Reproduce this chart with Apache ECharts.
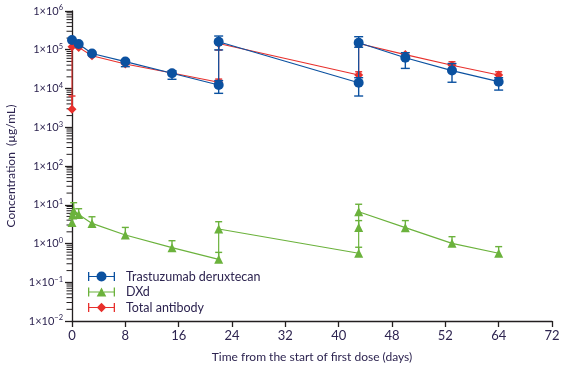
<!DOCTYPE html>
<html>
<head>
<meta charset="utf-8">
<script src="https://cdn.jsdelivr.net/npm/echarts@6/dist/echarts.min.js"></script>
<style>html,body{margin:0;padding:0;background:#fff}#c{width:568px;height:373px}</style>
</head>
<body>
<div id="c"></div>
<script>
// ---- data (days, µg/mL) ----
const tdxdDays = [0, 1, 3, 8, 15, 22, 22, 43, 43, 50, 57, 64];
const tdxdConc = [1.79e5, 1.41e5, 8.0e4, 4.95e4, 2.47e4, 1.23e4, 1.61e5, 1.41e4, 1.52e5, 6.2e4, 2.9e4, 1.5e4];
const tdxdLow  = [null, null, null, 3.66e4, 1.73e4, 7.5e3, 9.9e4, 6.4e3, 1.16e5, 3.3e4, 1.45e4, 9.1e3];
const tdxdHigh = [null, null, null, 5.3e4, 2.88e4, 1.6e4, 2.26e5, 1.9e4, 2.17e5, 8.4e4, 4.4e4, 1.9e4];

const dxdDays = [0, 0.1, 0.25, 1, 3, 8, 15, 22, 22, 43, 43, 43, 50, 57, 64];
const dxdConc = [3.5, 5.4, 7.0, 5.6, 3.3, 1.66, 0.78, 0.39, 2.37, 0.56, 2.6, 6.6, 2.56, 1.01, 0.56];
const dxdLow  = [null, null, null, null, null, null, null, null, null, null, null, null, null, null, null];
const dxdHigh = [null, null, 11.3, 7.9, 4.9, 2.6, 1.18, 0.59, 3.65, 0.8, 3.9, 10.3, 3.9, 1.5, 0.83];

const tabDays = [0, 0, 1, 3, 8, 15, 22, 22, 43, 43, 50, 57, 64];
const tabConc = [2.9e3, 1.2e5, 1.15e5, 7.0e4, 4.3e4, 2.5e4, 1.45e4, 1.45e5, 2.23e4, 1.45e5, 7.5e4, 4.0e4, 2.23e4];
const tabLow  = [null, null, null, null, null, null, null, 9.8e4, null, 1.2e5, null, null, null];
const tabHigh = [6.4e3, null, null, null, null, null, 1.75e4, null, 2.7e4, null, null, 4.9e4, 2.7e4];

const seriesNames = ['Trastuzumab deruxtecan', 'DXd', 'Total antibody'];
const xTickLabels = ['0', '8', '16', '24', '32', '40', '48', '52', '64', '72'];
const yExponents = [-2, -1, 0, 1, 2, 3, 4, 5, 6];

// ---- styling ----
const BLUE = '#0b51a0', GREEN = '#6bb23c', RED = '#e8302c';
const AXIS = '#231f20', TXT = '#2d2450';
const FONT = 'Lato';

const yMinorTicks = [];
for (let e = yExponents[0]; e < yExponents[yExponents.length - 1]; e++) {
  for (let k = 2; k <= 9; k++) yMinorTicks.push([0, k * Math.pow(10, e)]);
}

function zip(xs, ys) { return xs.map((x, i) => [x, ys[i]]); }
function ebData(xs, ys, lo, hi) {
  return xs.map((x, i) => [x, ys[i], lo[i] == null ? ys[i] : lo[i], hi[i] == null ? ys[i] : hi[i]]);
}
function errorBar(name, data, color, capHalf, z) {
  return {
    type: 'custom', name: name, data: data, z: z, silent: true, clip: false,
    encode: { x: 0, y: 1 },
    renderItem: function (params, api) {
      const x = api.value(0), y = api.value(1), lo = api.value(2), hi = api.value(3);
      const pLo = api.coord([x, lo]), pHi = api.coord([x, hi]);
      const children = [];
      const st = { stroke: color, lineWidth: 1.4 };
      if (pLo[1] - pHi[1] > 0.5) {
        children.push({ type: 'line', shape: { x1: pLo[0], y1: pLo[1], x2: pHi[0], y2: pHi[1] }, style: st });
      }
      if (lo < y) children.push({ type: 'line', shape: { x1: pLo[0] - capHalf, y1: pLo[1], x2: pLo[0] + capHalf, y2: pLo[1] }, style: st });
      if (hi > y) children.push({ type: 'line', shape: { x1: pHi[0] - capHalf, y1: pHi[1], x2: pHi[0] + capHalf, y2: pHi[1] }, style: st });
      return { type: 'group', children: children };
    }
  };
}

const capL = 'M0,1 H1.3 V10 H0 Z M25.7,1 H27 V10 H25.7 Z ';
const iconCircle = 'path://' + capL + 'M0,4.9 H9 V6.1 H0 Z M18,4.9 H27 V6.1 H18 Z M8.5,5.5 A5,5 0 1,1 18.5,5.5 A5,5 0 1,1 8.5,5.5 Z';
const iconTri = 'path://' + capL + 'M0,4.9 H11 V6.1 H0 Z M16,4.9 H27 V6.1 H16 Z M13.5,1 L18.3,10 L8.7,10 Z';
const iconDia = 'path://' + capL + 'M0,4.9 H9.5 V6.1 H0 Z M17.5,4.9 H27 V6.1 H17.5 Z M13.5,0.8 L18.2,5.5 L13.5,10.2 L8.8,5.5 Z';

const chart = echarts.init(document.getElementById('c'), null, { renderer: 'canvas' });
chart.setOption({
  animation: false,
  backgroundColor: '#fff',
  grid: { left: 72, right: 16, top: 11, bottom: 52, containLabel: false, outerBoundsMode: 'none' },
  legend: {
    orient: 'vertical', left: 83, top: 265, itemWidth: 27, itemHeight: 11, itemGap: 2.5,
    data: [
      { name: seriesNames[0], icon: iconCircle },
      { name: seriesNames[1], icon: iconTri },
      { name: seriesNames[2], icon: iconDia }
    ],
    textStyle: { fontFamily: FONT, fontSize: 12.5, color: TXT, padding: [0, 0, 0, 6], lineHeight: 12 }
  },
  xAxis: {
    type: 'value', min: 0, max: 72, interval: 8,
    name: 'Time from the start of first dose (days)', nameLocation: 'middle', nameGap: 30,
    nameTextStyle: { fontFamily: FONT, fontSize: 12, color: TXT },
    axisLine: { lineStyle: { color: AXIS, width: 1.3 } },
    axisTick: { length: 6, lineStyle: { color: AXIS, width: 1.3 } },
    axisLabel: { margin: 8, fontFamily: FONT, fontSize: 13, color: TXT,
      formatter: function (v, i) { return xTickLabels[Math.round(v / 8)]; } },
    splitLine: { show: false }
  },
  yAxis: {
    type: 'log', logBase: 10, min: 0.01, max: 1e6, interval: 1,
    name: 'Concentration  (µg/mL)', nameLocation: 'middle', nameGap: 55,
    nameTextStyle: { fontFamily: FONT, fontSize: 12, color: TXT },
    axisLine: { show: true, lineStyle: { color: AXIS, width: 1.3 } },
    axisTick: { show: true, length: 7, lineStyle: { color: AXIS, width: 1.3 } },
    minorTick: { show: false },
    axisLabel: {
      margin: 9,
      formatter: function (v) {
        const e = Math.round(Math.log10(v));
        return '{a|1×10}{s|' + (e < 0 ? '−' + (-e) : e) + '}';
      },
      rich: {
        a: { fontFamily: FONT, fontSize: 11, color: TXT, lineHeight: 14 },
        s: { fontFamily: FONT, fontSize: 7.5, color: TXT, lineHeight: 6, verticalAlign: 'top' }
      }
    },
    splitLine: { show: false }
  },
  series: [
    {
      type: 'custom', name: 'minor', data: yMinorTicks, silent: true, clip: false, z: 1,
      encode: { x: 0, y: 1 },
      renderItem: function (params, api) {
        const p = api.coord([api.value(0), api.value(1)]);
        return { type: 'line', shape: { x1: p[0] - 5.5, y1: p[1], x2: p[0], y2: p[1] },
          style: { stroke: AXIS, lineWidth: 1 } };
      }
    },
    errorBar('ebT', ebData(tdxdDays, tdxdConc, tdxdLow, tdxdHigh), BLUE, 4.5, 3.5),
    errorBar('ebD', ebData(dxdDays, dxdConc, dxdLow, dxdHigh), GREEN, 3.5, 2),
    errorBar('ebA', ebData(tabDays, tabConc, tabLow, tabHigh), RED, 3.5, 2),
    {
      type: 'line', name: seriesNames[0], data: zip(tdxdDays, tdxdConc), z: 4,
      symbol: 'circle', symbolSize: 10, color: BLUE, clip: false,
      lineStyle: { color: BLUE, width: 1.2 }, itemStyle: { color: BLUE }
    },
    {
      type: 'line', name: seriesNames[1], data: zip(dxdDays, dxdConc), z: 3,
      symbol: 'triangle', symbolSize: 9, color: GREEN, clip: false,
      lineStyle: { color: GREEN, width: 1.2 }, itemStyle: { color: GREEN }
    },
    {
      type: 'line', name: seriesNames[2], data: zip(tabDays, tabConc), z: 3,
      symbol: 'diamond', symbolSize: 9, color: RED, clip: false,
      lineStyle: { color: RED, width: 1.1 }, itemStyle: { color: RED }
    }
  ]
});
</script>
</body>
</html>
